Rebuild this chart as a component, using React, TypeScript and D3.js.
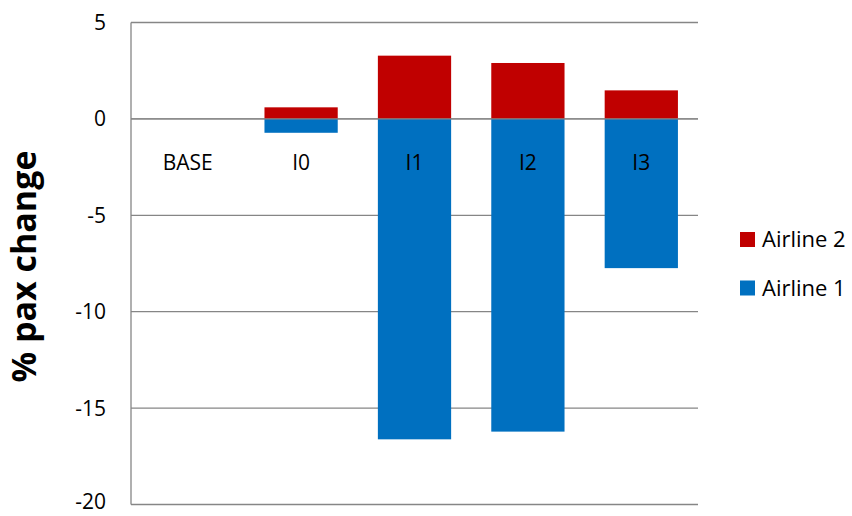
import React from "react";
import * as d3 from "d3";

const categories = ["BASE", "I0", "I1", "I2", "I3"];
const airline2 = [0, 0.6, 3.28, 2.9, 1.48];
const airline1 = [0, -0.72, -16.62, -16.22, -7.74];
const yTicks = [5, 0, -5, -10, -15, -20];
const seriesNames = ["Airline 2", "Airline 1"];
const seriesColors = ["#C00000", "#0070C0"];

const W = 852;
const H = 516;
const FONT = "'Open Sans', 'Noto Sans', sans-serif";

export default function App() {
  const left = 131;
  const right = 698;
  const top = 22.5;
  const bottom = 504.5;
  const x = d3.scaleBand<string>().domain(categories).range([left, right]).paddingInner(0.354).paddingOuter(0.177);
  const y = d3.scaleLinear().domain([-20, 5]).range([bottom, top]);
  const bw = x.bandwidth();
  const grid = "#868686";

  return (
    <svg width={W} height={H} style={{ position: "absolute", left: 0, top: 0, background: "#fff" }}>
      {yTicks.map((t) => (
        <g key={t}>
          <line x1={left} x2={right} y1={y(t)} y2={y(t)} stroke={grid} strokeWidth={1.3} />
          <text x={106} y={Math.min(y(t), 501.5)} dy="0.36em" textAnchor="end" fontFamily={FONT} fontSize={21} fill="#000">
            {t}
          </text>
        </g>
      ))}
      <line x1={left} x2={left} y1={top} y2={bottom} stroke={grid} strokeWidth={1.3} />
      {categories.map((c, i) => (
        <g key={c}>
          {airline1[i] !== 0 && (
            <rect x={x(c)} width={bw} y={y(0)} height={y(airline1[i]) - y(0)} fill={seriesColors[1]} />
          )}
          {airline2[i] !== 0 && (
            <rect x={x(c)} width={bw} y={y(airline2[i])} height={y(0) - y(airline2[i])} fill={seriesColors[0]} />
          )}
        </g>
      ))}
      <line x1={left} x2={right} y1={y(0)} y2={y(0)} stroke={grid} strokeWidth={1.3} />
      {categories.map((c) => (
        <text key={c} x={(x(c) as number) + bw / 2} y={169.5} textAnchor="middle" fontFamily={FONT} fontSize={21} fill="#000">
          {c}
        </text>
      ))}
      <text
        transform={`translate(36,266.5) rotate(-90)`}
        textAnchor="middle"
        fontFamily={FONT}
        fontWeight="bold"
        fontSize={34}
        fill="#000"
      >
        % pax change
      </text>
      {seriesNames.map((s, i) => (
        <g key={s} transform={`translate(740,${232 + i * 48.5})`}>
          <rect x={0} y={0} width={15} height={15} fill={seriesColors[i]} />
          <text x={22} y={7.5} dy="0.36em" fontFamily={FONT} fontSize={22} fill="#000">
            {s}
          </text>
        </g>
      ))}
    </svg>
  );
}
